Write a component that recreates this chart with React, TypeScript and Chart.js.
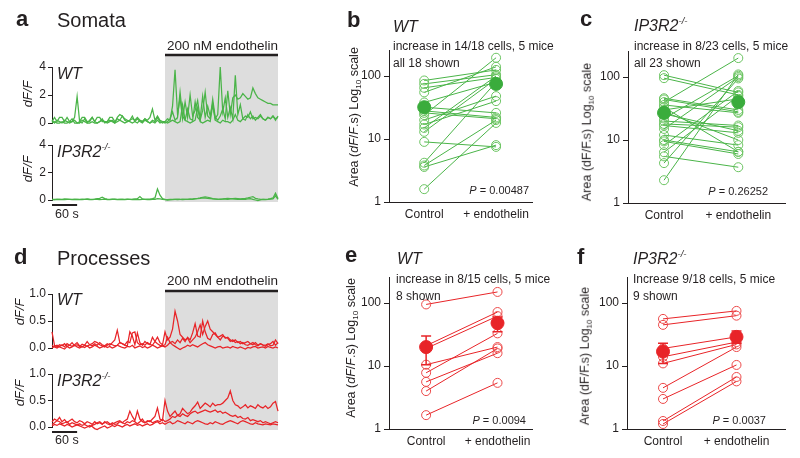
import React, { useEffect, useRef } from "react";
import { Chart, registerables } from "chart.js";

Chart.register(...registerables);

const FONT = '"Liberation Sans", Arial, Helvetica, sans-serif';
Chart.defaults.font.family = FONT;

const INK = "#231f20";
const GREEN = "rgb(74,180,72)";
const GREEN_LIGHT = "rgb(108,196,98)";
const GREEN_MEAN = "rgb(58,172,60)";
const RED = "rgb(232,36,40)";
const RED_LIGHT = "rgb(236,72,72)";
const SHADE = "rgb(221,221,221)";

// ---- trace timing (s) ----
const STEP_S = 6;
const TRACE_END_S = 540;
const ENDO_START_S = 270;
const SCALEBAR_S = 60;

// ---- panel a: somata dF/F traces ----
const SOMA_WT_1 = [
  0.1, 0.4, 0.1, 0.4, 0.4, 0.1, 0.4, 0.1, 0.1, 0.4,
  1.9, 0.1, 0.4, 0.4, 0.1, 0.1, 0.4, 0.1, 0.4, 0.4,
  0.1, 0.1, 0.1, 0.4, 0.4, 0.1, 0.3, 0.2, 0.5, 0.2,
  0.1, 0.2, 0.3, 0.2, 0.4, 0.2, 0.1, 0.3, 0.2, 0.4,
  1.0, 0.2, 0.5, 0.2, 0.1,
  0.1, 0.3, 0.2, 1.2, 3.8, 0.6, 1.8, 0.3, 1.5, 0.4,
  2.0, 0.5, 0.9, 1.6, 0.3, 1.9, 0.4, 1.2, 0.5, 1.4,
  0.3, 0.6, 4.0, 0.8, 1.8, 0.4, 1.1, 0.3, 3.4, 0.6,
  1.3, 0.3, 0.5, 0.4, 0.8, 0.3, 0.4, 0.3, 0.5, 0.3,
  0.2, 0.4, 0.3, 0.5, 0.3, 0.4,
];
const SOMA_WT_2 = [
  0.0, 0.1, 0.0, 0.0, 0.1, 0.0, 0.0, 0.1, 0.3, 0.0,
  0.0, 0.1, 0.0, 0.3, 0.0, 0.0, 0.1, 0.0, 0.0, 0.1,
  0.3, 0.0, 0.1, 0.2, 0.1, 0.0, 0.4, 0.6, 0.5, 0.3,
  0.2, 0.1, 0.0, 0.1, 0.3, 0.1, 0.0, 0.2, 0.1, 0.0,
  0.1, 0.0, 0.2, 0.0, 0.1,
  0.0, 0.1, 0.3, 0.8, 0.2, 0.4, 2.2, 0.5, 0.2, 1.0,
  0.3, 0.2, 1.5, 0.4, 0.2, 0.9, 2.2, 0.5, 0.3, 1.7,
  0.4, 0.2, 0.5, 1.0, 0.3, 2.3, 0.6, 1.8, 2.0, 1.7,
  1.8, 2.1, 1.9, 1.7, 1.8, 2.5, 2.1, 1.8, 1.7, 1.6,
  1.5, 1.4, 1.4, 1.3, 1.3, 1.3,
];
const SOMA_WT_3 = [
  0.2, 0.0, 0.2, 0.1, 0.0, 0.2, 0.1, 0.0, 0.1, 0.2,
  0.0, 0.0, 0.2, 0.1, 0.0, 0.2, 0.4, 0.1, 0.0, 0.1,
  0.2, 0.1, 0.0, 0.1, 0.2, 0.0, 0.1, 0.2, 0.1, 0.0,
  0.1, 0.2, 0.5, 0.1, 0.0, 0.2, 0.1, 0.3, 0.1, 0.0,
  0.2, 0.1, 0.4, 0.1, 0.0,
  0.1, 0.0, 0.1, 0.2, 0.1, 0.0, 0.1, 1.3, 0.2, 0.1,
  0.0, 0.1, 0.2, 1.1, 0.1, 0.0, 0.1, 0.2, 0.1, 1.3,
  0.2, 0.1, 0.0, 0.2, 0.1, 0.1, 0.0, 0.2, 0.6, 0.2,
  0.1, 0.3, 0.2, 0.6, 0.3, 0.5, 0.2, 0.4, 0.6, 0.3,
  0.2, 0.4, 0.3, 0.5, 0.2, 0.5,
];
const SOMA_KO_1 = [
  0.05, 0.03, 0.06, 0.04, 0.05, 0.08, 0.06, 0.04, 0.05, 0.07,
  0.05, 0.04, 0.06, 0.05, 0.08, 0.06, 0.05, 0.07, 0.1, 0.12,
  0.2, 0.1, 0.06, 0.05, 0.07, 0.06, 0.05, 0.04, 0.06, 0.05,
  0.07, 0.05, 0.06, 0.08, 0.1, 0.25, 0.08, 0.05, 0.06, 0.07,
  0.1, 0.15, 0.8, 0.35, 0.1,
  0.05, 0.0, 0.03, 0.05, 0.04, 0.03, 0.05, 0.06, 0.04, 0.05,
  0.07, 0.08, 0.1, 0.12, 0.15, 0.2, 0.22, 0.2, 0.15, 0.1,
  0.08, 0.06, 0.05, 0.07, 0.06, 0.05, 0.08, 0.1, 0.12, 0.1,
  0.08, 0.1, 0.12, 0.15, 0.2, 0.25, 0.12, 0.08, 0.05, 0.04,
  0.05, 0.07, 0.1, 0.15, 0.5, 0.1,
];
const SOMA_KO_2 = [
  0.02, 0.04, 0.03, 0.05, 0.02, 0.03, 0.05, 0.04, 0.02, 0.03,
  0.04, 0.02, 0.03, 0.05, 0.04, 0.03, 0.02, 0.04, 0.05, 0.03,
  0.04, 0.06, 0.03, 0.02, 0.04, 0.05, 0.03, 0.04, 0.02, 0.03,
  0.05, 0.04, 0.03, 0.02, 0.04, 0.03, 0.05, 0.04, 0.03, 0.02,
  0.04, 0.05, 0.1, 0.08, 0.05,
  0.03, 0.02, 0.04, 0.03, 0.05, 0.06, 0.04, 0.03, 0.05, 0.04,
  0.06, 0.05, 0.08, 0.1, 0.12, 0.15, 0.14, 0.12, 0.1, 0.08,
  0.06, 0.05, 0.07, 0.08, 0.1, 0.12, 0.1, 0.08, 0.06, 0.05,
  0.04, 0.06, 0.05, 0.08, 0.1, 0.05, 0.0, -0.05, 0.0, 0.05,
  0.03, 0.04, 0.06, 0.08, 0.3, 0.05,
];

// ---- panel d: processes dF/F traces ----
const PROC_WT_1 = [
  0.3, 0.05, 0.02, 0.06, 0.04, 0.08, 0.03, 0.05, 0.1, 0.04,
  0.06, 0.03, 0.07, 0.05, 0.12, 0.06, 0.04, 0.08, 0.05, 0.1,
  0.06, 0.04, 0.08, 0.05, 0.1, 0.15, 0.33, 0.1, 0.08, 0.06,
  0.12, 0.1, 0.28, 0.3, 0.1, 0.06, 0.08, 0.05, 0.1, 0.07,
  0.05, 0.12, 0.2, 0.1, 0.06,
  0.3, 0.15, 0.2, 0.35, 0.68, 0.5, 0.25, 0.2, 0.15, 0.18,
  0.1, 0.15, 0.2, 0.3, 0.43, 0.25, 0.4, 0.5, 0.35, 0.3,
  0.25, 0.2, 0.22, 0.25, 0.18, 0.2, 0.15, 0.12, 0.15, 0.1,
  0.12, 0.08, 0.1, 0.12, 0.08, 0.06, 0.1, 0.05, 0.08, 0.06,
  0.05, 0.08, 0.04, 0.05, 0.15, 0.08,
];
const PROC_WT_2 = [
  0.05, 0.02, 0.0, 0.03, 0.06, 0.02, 0.08, 0.05, 0.03, 0.06,
  0.1, 0.04, 0.02, 0.05, 0.03, 0.06, 0.08, 0.12, 0.1, 0.06,
  0.04, 0.02, 0.05, 0.08, 0.06, 0.04, 0.05, 0.1, 0.08, 0.05,
  0.04, 0.3, 0.22, 0.06, 0.28, 0.1, 0.05, 0.12, 0.08, 0.06,
  0.2, 0.12, 0.08, 0.05, 0.04,
  0.06, 0.2, 0.1, 0.12, 0.08, 0.15, 0.1, 0.18, 0.12, 0.2,
  0.15, 0.28, 0.45, 0.22, 0.2, 0.5, 0.3, 0.18, 0.15, 0.25,
  0.28, 0.2, 0.15, 0.22, 0.2, 0.18, 0.12, 0.15, 0.1, 0.12,
  0.08, 0.1, 0.06, 0.05, 0.08, 0.1, 0.06, 0.04, 0.08, 0.05,
  0.03, 0.06, 0.08, 0.12, 0.05, 0.1,
];
const PROC_WT_3 = [
  0.0, 0.03, 0.05, 0.02, 0.0, -0.02, 0.03, 0.0, 0.02, 0.05,
  0.02, 0.0, 0.03, 0.01, 0.04, 0.0, 0.02, 0.05, 0.03, 0.0,
  0.02, 0.04, 0.01, 0.03, 0.0, 0.02, 0.05, 0.03, 0.01, 0.0,
  0.03, 0.02, 0.05, 0.0, 0.02, 0.04, 0.01, 0.03, 0.0, 0.02,
  0.05, 0.03, 0.0, 0.02, 0.04,
  0.02, 0.05, 0.1, 0.06, 0.03, 0.0, -0.03, 0.0, 0.02, 0.05,
  0.03, 0.06, 0.04, 0.02, 0.05, 0.08, 0.1, 0.06, 0.04, 0.02,
  0.0, 0.02, 0.03, 0.0, 0.01, 0.02, 0.0, 0.03, 0.01, 0.0,
  0.02, 0.0, -0.02, 0.01, 0.0, 0.02, 0.03, 0.0, 0.01, 0.02,
  0.0, 0.03, 0.01, 0.0, 0.02, 0.0,
];
const PROC_KO_1 = [
  0.1, 0.15, 0.12, 0.18, 0.1, 0.14, 0.08, 0.12, 0.15, 0.1,
  0.08, 0.12, 0.1, 0.06, 0.1, 0.08, 0.05, 0.1, 0.06, 0.08,
  0.05, 0.1, 0.06, 0.04, 0.08, 0.05, 0.06, 0.1, 0.08, 0.12,
  0.15, 0.3, 0.2, 0.12, 0.3, 0.15, 0.1, 0.08, 0.12, 0.1,
  0.15, 0.2, 0.36, 0.15, 0.12,
  0.5, 0.3, 0.2, 0.25, 0.3, 0.22, 0.25, 0.35, 0.3, 0.25,
  0.28, 0.35, 0.4, 0.47, 0.35, 0.4, 0.45, 0.42, 0.38, 0.45,
  0.4, 0.42, 0.42, 0.45, 0.5, 0.55, 0.68, 0.5, 0.42, 0.4,
  0.35, 0.38, 0.42, 0.36, 0.4, 0.38, 0.35, 0.42, 0.38, 0.36,
  0.4, 0.35, 0.38, 0.45, 0.48, 0.3,
];
const PROC_KO_2 = [
  0.05, 0.08, 0.12, 0.1, 0.06, 0.08, 0.1, 0.05, 0.08, 0.06,
  0.04, 0.06, 0.03, 0.05, 0.02, 0.0, 0.03, 0.05, 0.08, 0.1,
  0.06, 0.08, 0.1, 0.06, 0.05, 0.08, 0.1, 0.12, 0.08, 0.06,
  0.1, 0.08, 0.12, 0.1, 0.06, 0.1, 0.15, 0.08, 0.1, 0.12,
  0.08, 0.1, 0.12, 0.1, 0.15,
  0.1, 0.12, 0.15, 0.2, 0.18, 0.22, 0.2, 0.25, 0.22, 0.2,
  0.25, 0.28, 0.3, 0.26, 0.28, 0.3, 0.32, 0.3, 0.28, 0.3,
  0.32, 0.28, 0.3, 0.26, 0.28, 0.25, 0.22, 0.2, 0.22, 0.18,
  0.2, 0.16, 0.15, 0.18, 0.12, 0.14, 0.12, 0.1, 0.12, 0.08,
  0.1, 0.08, 0.06, 0.08, 0.1, 0.08,
];
const PROC_KO_3 = [
  0.02, 0.05, 0.03, 0.06, 0.04, 0.02, 0.05, 0.03, 0.0, 0.02,
  0.04, 0.02, 0.0, -0.02, 0.0, 0.03, 0.01, -0.03, -0.05, -0.02,
  0.0, 0.02, -0.02, 0.0, 0.03, 0.01, 0.04, 0.02, 0.0, 0.03,
  0.05, 0.02, 0.04, 0.06, 0.03, 0.05, 0.02, 0.04, 0.06, 0.03,
  0.05, 0.08, 0.1, 0.06, 0.08,
  0.05, 0.08, 0.1, 0.06, 0.08, 0.12, 0.1, 0.08, 0.06, 0.1,
  0.08, 0.06, 0.1, 0.12, 0.1, 0.08, 0.06, 0.05, 0.08, 0.06,
  0.1, 0.08, 0.06, 0.05, 0.08, 0.1, 0.12, 0.1, 0.08, 0.06,
  0.1, 0.12, 0.1, 0.08, 0.06, 0.05, 0.08, 0.06, 0.05, 0.04,
  0.06, 0.05, 0.04, 0.06, 0.05, 0.04,
];

// ---- paired area plots (dF/F.s) ----
const X_LABELS = ["Control", "+ endothelin"];
const LOG_TICKS = [1, 10, 100];

const B_CONTROL = [85, 75, 65, 55, 38, 32, 28, 26, 24, 20, 17, 15, 13, 9, 4.2, 3.8, 3.6, 1.6];
const B_ENDO = [125, 105, 95, 140, 80, 26, 22, 21, 195, 48, 40, 100, 90, 7.5, 80, 20, 8, 18];
const B_MEAN = [32, 75];

const C_CONTROL = [107, 96, 46, 44, 40, 36, 33, 30, 26, 22, 20, 17, 15, 12, 10, 9.5, 8.3, 18, 6.4, 5.5, 4.3, 2.3, 28];
const C_ENDO = [57, 52, 30, 28, 200, 27, 6.5, 45, 14, 105, 17, 13, 100, 8.3, 6.5, 6, 60, 16, 50, 3.7, 95, 110, 10];
const C_MEAN = [27, 40];

const E_CONTROL = [95, 21, 19, 10.5, 7.8, 5.6, 4, 1.66];
const E_ENDO = [150, 72, 62, 20, 33, 16, 19, 5.4];
const E_MEAN = [20, 48];
const E_LO = [10.5, 35];
const E_HI = [30, 60];

const F_CONTROL = [56, 45, 19, 14, 11, 4.5, 3, 1.34, 1.2];
const F_ENDO = [75, 63, 29, 24, 22, 20, 10.4, 6.7, 5.7];
const F_MEAN = [17, 29];
const F_LO = [11, 23];
const F_HI = [23, 36];

type Area = { left: number; right: number; top: number; bottom: number };

const shadePlugin = {
  id: "shade",
  beforeDatasetsDraw(chart: any, _a: any, o: any) {
    const { ctx } = chart;
    const x = chart.scales.x;
    const x0 = x.getPixelForValue(o.from);
    const x1 = x.getPixelForValue(o.to);
    ctx.save();
    ctx.fillStyle = SHADE;
    ctx.fillRect(x0, o.top, x1 - x0, o.bottom - o.top);
    if (o.bar) {
      ctx.strokeStyle = INK;
      ctx.lineWidth = 2.5;
      ctx.beginPath();
      ctx.moveTo(x0, o.top);
      ctx.lineTo(x1, o.top);
      ctx.stroke();
    }
    ctx.restore();
  },
  afterDatasetsDraw(chart: any, _a: any, o: any) {
    if (o.scaleBarY == null || o.scaleBarY < 0) return;
    const { ctx } = chart;
    const x = chart.scales.x;
    const x0 = x.getPixelForValue(0);
    const x1 = x.getPixelForValue(o.scaleBar);
    ctx.save();
    ctx.strokeStyle = INK;
    ctx.lineWidth = 2;
    ctx.beginPath();
    ctx.moveTo(x0, o.scaleBarY);
    ctx.lineTo(x1, o.scaleBarY);
    ctx.stroke();
    ctx.restore();
  },
};

const errPlugin = {
  id: "errbars",
  afterDatasetsDraw(chart: any, _a: any, o: any) {
    if (!o || !o.lo || !o.hi) return;
    const { ctx } = chart;
    const xs = chart.scales.x;
    const ys = chart.scales.y;
    ctx.save();
    ctx.strokeStyle = o.color;
    ctx.lineWidth = 1.5;
    for (let i = 0; i < o.lo.length; i++) {
      const x = xs.getPixelForValue(i);
      const y0 = ys.getPixelForValue(o.lo[i]);
      const y1 = ys.getPixelForValue(o.hi[i]);
      ctx.beginPath();
      ctx.moveTo(x, y0);
      ctx.lineTo(x, y1);
      ctx.moveTo(x - 5, y0);
      ctx.lineTo(x + 5, y0);
      ctx.moveTo(x - 5, y1);
      ctx.lineTo(x + 5, y1);
      ctx.stroke();
    }
    ctx.restore();
  },
};

type TraceProps = {
  left: number; top: number; width: number; height: number; area: Area;
  series: number[][]; color: string; yMax: number; yStep: number; decimals: number;
  shadeTop: number; shadeBottom: number; bar?: boolean; scaleBarY?: number;
};

function TraceChart(p: TraceProps) {
  const ref = useRef<HTMLCanvasElement>(null);
  useEffect(() => {
    const chart = new Chart(ref.current as HTMLCanvasElement, {
      type: "line",
      data: {
        datasets: p.series.map((s) => ({
          data: s.map((v, i) => ({ x: i * STEP_S, y: v })),
          borderColor: p.color,
          borderWidth: 1.25,
          pointRadius: 0,
          tension: 0,
          fill: false,
          clip: false,
        })),
      } as any,
      options: {
        responsive: false,
        animation: false,
        events: [],
        layout: { padding: { left: 0, top: p.area.top, right: p.width - p.area.right, bottom: p.height - p.area.bottom } },
        plugins: {
          legend: { display: false },
          tooltip: { enabled: false },
          shade: {
            from: ENDO_START_S, to: TRACE_END_S, top: p.shadeTop, bottom: p.shadeBottom,
            bar: !!p.bar, scaleBarY: p.scaleBarY ?? -1, scaleBar: SCALEBAR_S,
          },
        } as any,
        scales: {
          x: { type: "linear", min: 0, max: TRACE_END_S, display: false },
          y: {
            type: "linear", min: 0, max: p.yMax,
            afterFit: (s: any) => { s.width = p.area.left; },
            ticks: {
              stepSize: p.yStep,
              callback: (v: any) => Number(v).toFixed(p.decimals),
              color: INK, font: { family: FONT, size: 12 }, padding: 2,
            },
            grid: { drawOnChartArea: false, drawTicks: true, tickLength: 4, color: INK, lineWidth: 1 },
            border: { display: true, color: INK, width: 1 },
          },
        },
      } as any,
      plugins: [shadePlugin],
    });
    return () => chart.destroy();
  }, []);
  return (
    <canvas ref={ref} width={p.width} height={p.height}
      style={{ position: "absolute", left: p.left, top: p.top, width: p.width, height: p.height }} />
  );
}

type PairProps = {
  left: number; top: number; width: number; height: number; area: Area;
  xMin: number; xMax: number; yMax: number;
  control: number[]; endo: number[]; mean: number[]; lo?: number[]; hi?: number[];
  line: string; circle: string; meanColor: string;
};

function PairChart(p: PairProps) {
  const ref = useRef<HTMLCanvasElement>(null);
  useEffect(() => {
    const datasets: any[] = [
      {
        data: p.mean.map((m, i) => ({ x: i, y: m })),
        showLine: false, pointRadius: 6.5, pointBackgroundColor: p.meanColor,
        pointBorderColor: p.meanColor, pointBorderWidth: 1, order: 0, clip: false,
      },
      ...p.control.map((c, i) => ({
        data: [{ x: 0, y: c }, { x: 1, y: p.endo[i] }],
        borderColor: p.line, borderWidth: 1, tension: 0,
        pointRadius: 4.5, pointBorderColor: p.circle,
        pointBackgroundColor: "rgba(255,255,255,0)", pointBorderWidth: 1,
        order: 1, clip: false,
      })),
    ];
    const chart = new Chart(ref.current as HTMLCanvasElement, {
      type: "line",
      data: { datasets },
      options: {
        responsive: false,
        animation: false,
        events: [],
        layout: { padding: { left: 0, top: p.area.top, right: p.width - p.area.right, bottom: 0 } },
        plugins: {
          legend: { display: false },
          tooltip: { enabled: false },
          errbars: { lo: p.lo ?? null, hi: p.hi ?? null, color: p.meanColor },
        } as any,
        scales: {
          x: {
            type: "linear", min: p.xMin, max: p.xMax,
            afterBuildTicks: (s: any) => { s.ticks = [{ value: 0 }, { value: 1 }]; },
            afterFit: (s: any) => { s.height = p.height - p.area.bottom; },
            ticks: {
              callback: (v: any) => X_LABELS[Number(v)] ?? "",
              color: INK, font: { family: FONT, size: 12 }, padding: 5,
              maxRotation: 0, autoSkip: false,
            },
            grid: { drawOnChartArea: false, drawTicks: false },
            border: { display: true, color: INK, width: 1 },
          },
          y: {
            type: "logarithmic", min: 1, max: p.yMax,
            afterBuildTicks: (s: any) => { s.ticks = LOG_TICKS.map((v) => ({ value: v })); },
            afterFit: (s: any) => { s.width = p.area.left; },
            ticks: {
              callback: (v: any) => String(v),
              color: INK, font: { family: FONT, size: 12 }, padding: 3, autoSkip: false,
            },
            grid: { drawOnChartArea: false, drawTicks: true, tickLength: 5, color: INK, lineWidth: 1 },
            border: { display: true, color: INK, width: 1 },
          },
        },
      } as any,
      plugins: [errPlugin],
    });
    return () => chart.destroy();
  }, []);
  return (
    <canvas ref={ref} width={p.width} height={p.height}
      style={{ position: "absolute", left: p.left, top: p.top, width: p.width, height: p.height }} />
  );
}

// text placed by its baseline
function T(props: { x: number; y: number; size: number; bold?: boolean; italic?: boolean; align?: "left" | "right" | "center"; children: any }) {
  const { x, y, size, bold, italic, align = "left", children } = props;
  const tx = align === "right" ? "translateX(-100%)" : align === "center" ? "translateX(-50%)" : "none";
  return (
    <div style={{
      position: "absolute", left: x, top: y - 0.8465 * size, fontSize: size, lineHeight: `${size}px`,
      fontFamily: FONT, fontWeight: bold ? 700 : 400, fontStyle: italic ? "italic" : "normal",
      whiteSpace: "nowrap", color: INK, transform: tx,
    }}>{children}</div>
  );
}

function VT(props: { cx: number; cy: number; size: number; italic?: boolean; children: any }) {
  return (
    <div style={{
      position: "absolute", left: props.cx, top: props.cy, fontSize: props.size, lineHeight: `${props.size}px`,
      fontFamily: FONT, whiteSpace: "nowrap", color: INK, fontStyle: props.italic ? "italic" : "normal",
      transform: "translate(-50%,-50%) rotate(-90deg)",
    }}>{props.children}</div>
  );
}

const Sup = (p: { children: any }) => (
  <span style={{ fontSize: "0.6em", position: "relative", top: "-0.75em", lineHeight: 0 }}>{p.children}</span>
);
const Sub = (p: { children: any }) => (
  <span style={{ fontSize: "0.65em", position: "relative", top: "0.35em", lineHeight: 0 }}>{p.children}</span>
);

const KO = () => (<>IP3R2<Sup>-/-</Sup></>);
const AreaTitle = (p: { italic: boolean }) => (
  <>Area ({p.italic ? <i>dF</i> : "dF"}/{p.italic ? <i>F</i> : "F"}.s) Log<Sub>10</Sub> scale</>
);
const PVal = (p: { v: string }) => (<><i>P</i> = {p.v}</>);

export default function App() {
  useEffect(() => {
    document.body.style.margin = "0";
  }, []);
  return (
    <div style={{ position: "absolute", left: 0, top: 0, width: 800, height: 458, background: "#fff", overflow: "hidden" }}>
      {/* panel a */}
      <TraceChart left={0} top={30} width={290} height={105} area={{ left: 52, right: 278, top: 37, bottom: 93 }}
        series={[SOMA_WT_3, SOMA_WT_2, SOMA_WT_1]} color={GREEN} yMax={4} yStep={1} decimals={0}
        shadeTop={25} shadeBottom={105} bar />
      <TraceChart left={0} top={135} width={290} height={85} area={{ left: 52, right: 278, top: 10, bottom: 65 }}
        series={[SOMA_KO_2, SOMA_KO_1]} color={GREEN} yMax={4} yStep={1} decimals={0}
        shadeTop={0} shadeBottom={67} scaleBarY={70} />
      {/* panel d */}
      <TraceChart left={0} top={270} width={290} height={90} area={{ left: 52, right: 278, top: 24, bottom: 78 }}
        series={[PROC_WT_3, PROC_WT_2, PROC_WT_1]} color={RED} yMax={1} yStep={0.5} decimals={1}
        shadeTop={21} shadeBottom={90} bar />
      <TraceChart left={0} top={360} width={290} height={98} area={{ left: 52, right: 278, top: 14, bottom: 67 }}
        series={[PROC_KO_3, PROC_KO_2, PROC_KO_1]} color={RED} yMax={1} yStep={0.5} decimals={1}
        shadeTop={0} shadeBottom={70} scaleBarY={72} />
      {/* panels b, c, e, f */}
      <PairChart left={290} top={30} width={250} height={200} area={{ left: 99, right: 245, top: 20, bottom: 172 }}
        xMin={-0.49} xMax={1.507} yMax={259} control={B_CONTROL} endo={B_ENDO} mean={B_MEAN}
        line={GREEN} circle={GREEN_LIGHT} meanColor={GREEN_MEAN} />
      <PairChart left={540} top={30} width={260} height={200} area={{ left: 88, right: 245, top: 21, bottom: 173 }}
        xMin={-0.485} xMax={1.629} yMax={259} control={C_CONTROL} endo={C_ENDO} mean={C_MEAN}
        line={GREEN} circle={GREEN_LIGHT} meanColor={GREEN_MEAN} />
      <PairChart left={290} top={255} width={250} height={203} area={{ left: 99, right: 245, top: 22, bottom: 174 }}
        xMin={-0.52} xMax={1.49} yMax={259} control={E_CONTROL} endo={E_ENDO} mean={E_MEAN} lo={E_LO} hi={E_HI}
        line={RED} circle={RED_LIGHT} meanColor={RED} />
      <PairChart left={540} top={255} width={260} height={203} area={{ left: 87, right: 245, top: 22, bottom: 174 }}
        xMin={-0.49} xMax={1.66} yMax={259} control={F_CONTROL} endo={F_ENDO} mean={F_MEAN} lo={F_LO} hi={F_HI}
        line={RED} circle={RED_LIGHT} meanColor={RED} />

      {/* texts: panel a */}
      <T x={16} y={27} size={22} bold>a</T>
      <T x={57} y={27} size={20}>Somata</T>
      <T x={278} y={50} size={13.5} align="right">200 nM endothelin</T>
      <T x={57} y={80} size={16} italic>WT</T>
      <T x={57} y={158} size={16} italic><KO /></T>
      <VT cx={27} cy={94} size={13} italic>dF/F</VT>
      <VT cx={27} cy={169} size={13} italic>dF/F</VT>
      <T x={55} y={219} size={12.5}>60 s</T>

      {/* panel d */}
      <T x={14} y={265} size={22} bold>d</T>
      <T x={57} y={265} size={20}>Processes</T>
      <T x={278} y={285} size={13.5} align="right">200 nM endothelin</T>
      <T x={57} y={306} size={16} italic>WT</T>
      <T x={57} y={387} size={16} italic><KO /></T>
      <VT cx={19} cy={312} size={13} italic>dF/F</VT>
      <VT cx={19} cy={393} size={13} italic>dF/F</VT>
      <T x={55} y={445} size={12.5}>60 s</T>

      {/* panel b */}
      <T x={347} y={28} size={22} bold>b</T>
      <T x={393} y={33} size={16} italic>WT</T>
      <T x={393} y={50} size={12}>increase in 14/18 cells, 5 mice</T>
      <T x={393} y={67} size={12}>all 18 shown</T>
      <T x={529} y={194} size={11} align="right"><PVal v="0.00487" /></T>
      <VT cx={354} cy={117} size={12.5}><AreaTitle italic /></VT>

      {/* panel c */}
      <T x={580} y={27} size={22} bold>c</T>
      <T x={634} y={32} size={16} italic><KO /></T>
      <T x={634} y={50} size={12}>increase in 8/23 cells, 5 mice</T>
      <T x={634} y={67} size={12}>all 23 shown</T>
      <T x={768} y={195} size={11} align="right"><PVal v="0.26252" /></T>
      <VT cx={587} cy={132} size={12.5}><AreaTitle italic={false} /></VT>

      {/* panel e */}
      <T x={345} y={263} size={22} bold>e</T>
      <T x={397} y={265} size={16} italic>WT</T>
      <T x={396} y={283} size={12}>increase in 8/15 cells, 5 mice</T>
      <T x={396} y={300} size={12}>8 shown</T>
      <T x={526} y={424} size={11} align="right"><PVal v="0.0094" /></T>
      <VT cx={351} cy={348} size={12.5}><AreaTitle italic /></VT>

      {/* panel f */}
      <T x={577} y={265} size={22} bold>f</T>
      <T x={633} y={265} size={16} italic><KO /></T>
      <T x={633} y={283} size={12}>Increase 9/18 cells, 5 mice</T>
      <T x={633} y={300} size={12}>9 shown</T>
      <T x={766} y={424} size={11} align="right"><PVal v="0.0037" /></T>
      <VT cx={585} cy={356} size={12.5}><AreaTitle italic={false} /></VT>
    </div>
  );
}
